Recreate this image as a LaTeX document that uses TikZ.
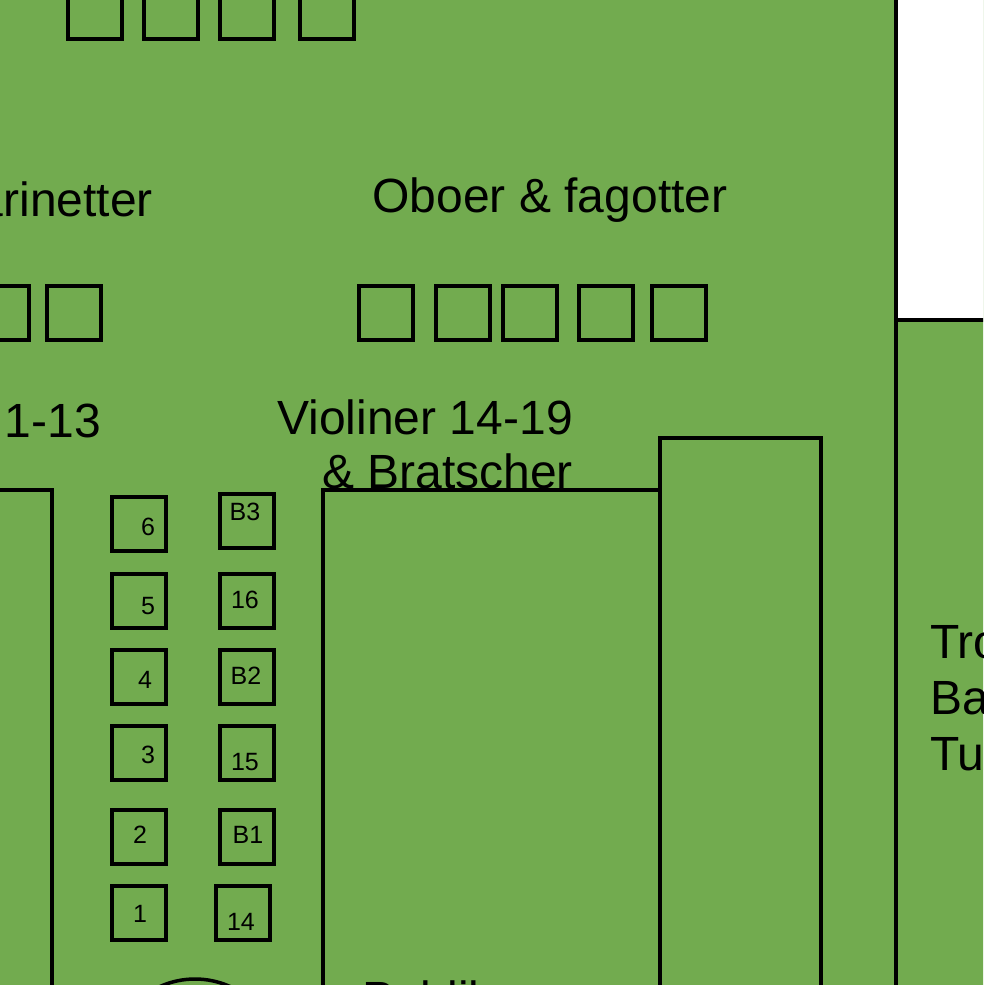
\documentclass[tikz,border=0pt]{standalone}
\usepackage{fontspec}
\setmainfont{Liberation Sans}
\definecolor{stage}{RGB}{114,171,79}
\begin{document}
\begin{tikzpicture}[x=1pt,y=-1pt,
  edge/.style={draw=black,line width=3.5pt},
  seat/.style={edge,fill=stage,minimum width=54pt,minimum height=54pt,inner sep=0pt,outer sep=0pt,anchor=north west},
  big/.style={font=\fontsize{48}{55}\selectfont,inner sep=0pt},
  small/.style={font=\fontsize{25}{30}\selectfont,inner sep=0pt}]
\useasboundingbox (0,0) rectangle (983,985);
\clip (0,0) rectangle (983,985);
% background
\fill[stage] (-10,-10) rectangle (1000,1000);
\fill[white] (896,-10) rectangle (1000,320);
\draw[edge] (896,-10) -- (896,1000);
\draw[edge] (896,320) -- (1000,320);
% large rectangles
\draw[edge,fill=stage] (-10,1000) -- (-10,490) -- (52,490) -- (52,1000);
\draw[edge,fill=stage] (323,1000) -- (323,490) -- (660,490) -- (660,1000);
\draw[edge,fill=stage] (660,1000) -- (660,438) -- (821,438) -- (821,1000);
% circle
\draw[edge,fill=stage] (195,1064) circle (85);
% top row seats
\node[seat] (t1) at (68,-15) {};
\node[seat] (t2) at (144,-15) {};
\node[seat] (t3) at (220,-15) {};
\node[seat] (t4) at (300,-15) {};
% clarinet seats
\node[seat] (k1) at (-25,286) {};
\node[seat] (k2) at (47,286) {};
% oboe seats
\node[seat] (o1) at (359,286) {};
\node[seat] (o2) at (436,286) {};
\node[seat] (o3) at (503,286) {};
\node[seat] (o4) at (579,286) {};
\node[seat] (o5) at (652,286) {};
% violin seats left column
\node[seat] (s6) at (112,497) {};
\node[seat] (s5) at (112,574) {};
\node[seat] (s4) at (112,650) {};
\node[seat] (s3) at (112,726) {};
\node[seat] (s2) at (112,810) {};
\node[seat] (s1) at (112,886) {};
% right column
\node[seat] (sb3) at (220,494) {};
\node[seat] (s16) at (220,574) {};
\node[seat] (sb2) at (220,650) {};
\node[seat] (s15) at (220,726) {};
\node[seat] (sb1) at (220,810) {};
\node[seat] (s14) at (216,886) {};
% seat labels
\node[small] (l6) at (148,527) {6};
\node[small] (l5) at (148,606) {5};
\node[small] (l4) at (145,680) {4};
\node[small] (l3) at (148,755) {3};
\node[small] (l2) at (140,835) {2};
\node[small] (l1) at (140,914) {1};
\node[small] (lb3) at (245,512) {B3};
\node[small] (l16) at (245,600) {16};
\node[small] (lb2) at (246,676) {B2};
\node[small] (l15) at (245,762) {15};
\node[small] (lb1) at (248,835) {B1};
\node[small] (l14) at (241,922) {14};
% big labels
\node[big,anchor=base east] (klar) at (153,216) {Klarinetter};
\node[big,anchor=base east] (vio1) at (101,437) {Violiner 1-13};
\node[big,anchor=base] (obo) at (550,212) {Oboer \& fagotter};
\node[big,anchor=base east] (vio2) at (573,434) {Violiner 14-19};
\node[big,anchor=base east] (brat) at (573,488) {\& Bratscher};
\node[big,anchor=base west] (tro) at (930,658) {Trompeter};
\node[big,anchor=base west] (bas) at (930,714) {Basuner};
\node[big,anchor=base west] (tub) at (930,770) {Tuba};
\node[big,anchor=base west] (pub) at (362,1015) {Publikum};
\end{tikzpicture}
\end{document}
